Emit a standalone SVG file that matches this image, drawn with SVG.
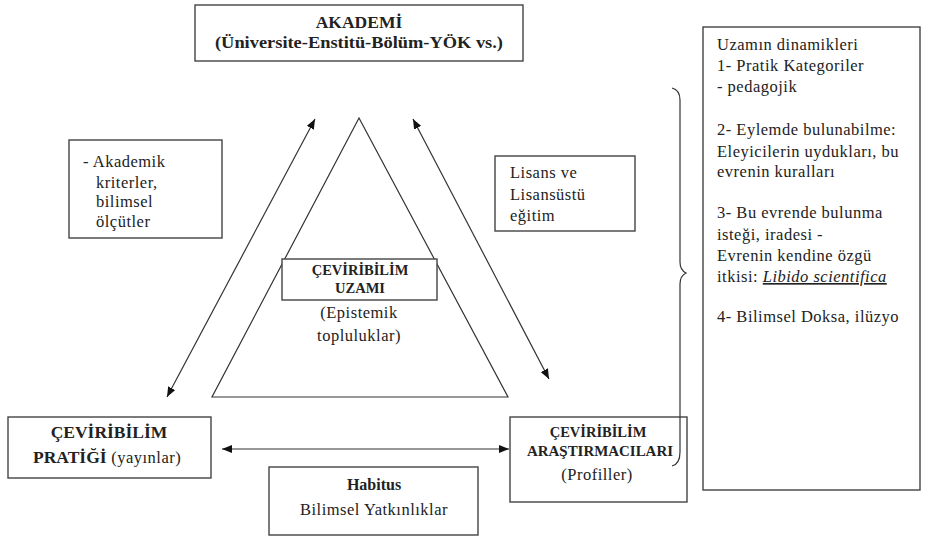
<svg xmlns="http://www.w3.org/2000/svg" width="925" height="539" viewBox="0 0 925 539">
<defs>
<style>
.box{fill:#fff;stroke:#444;stroke-width:1.4}
.ln{fill:none;stroke:#333;stroke-width:1.2}
.b{font-family:"Liberation Serif",serif;font-weight:bold;fill:#222}
.t{font-family:"Liberation Serif",serif;font-size:16.5px;letter-spacing:0.5px;fill:#222}
</style>
<marker id="ah" viewBox="0 0 10 8" refX="10" refY="4" markerWidth="10" markerHeight="8" markerUnits="userSpaceOnUse" orient="auto-start-reverse">
<path d="M0,0 L10,4 L0,8 Z" fill="#111"/>
</marker>
</defs>
<rect width="925" height="539" fill="#fff"/>

<g id="connectors">
<line class="ln" x1="315" y1="119" x2="167" y2="397" marker-start="url(#ah)" marker-end="url(#ah)"/>
<line class="ln" x1="413" y1="119" x2="549" y2="379" marker-start="url(#ah)" marker-end="url(#ah)"/>
<line class="ln" x1="222" y1="449" x2="509" y2="449" marker-start="url(#ah)" marker-end="url(#ah)"/>
</g>

<g id="triangle">
<polygon points="359,118 212,397 508,397" fill="none" stroke="#333" stroke-width="1.2"/>
</g>

<g id="akademi">
<rect class="box" x="195" y="5" width="328" height="56"/>
<text class="b" x="359" y="28" font-size="17.5" text-anchor="middle">AKADEMİ</text>
<text class="b" x="359" y="48" font-size="17" text-anchor="middle" textLength="288" lengthAdjust="spacingAndGlyphs">(Üniversite-Enstitü-Bölüm-YÖK vs.)</text>
</g>

<g id="akademik-kriterler">
<rect class="box" x="69" y="140" width="153" height="98"/>
<text class="t"><tspan x="83" y="167">- Akademik</tspan><tspan x="96" y="188">kriterler,</tspan><tspan x="96" y="207">bilimsel</tspan><tspan x="96" y="227">ölçütler</tspan></text>
</g>

<g id="lisans">
<rect class="box" x="495" y="156" width="140" height="75"/>
<text class="t"><tspan x="510" y="178">Lisans ve</tspan><tspan x="510" y="200">Lisansüstü</tspan><tspan x="510" y="221">eğitim</tspan></text>
</g>

<g id="uzam">
<rect class="box" x="282" y="259" width="155" height="41"/>
<text class="b" x="360" y="275" font-size="14.5" text-anchor="middle">ÇEVİRİBİLİM</text>
<text class="b" x="360" y="293" font-size="14.5" text-anchor="middle">UZAMI</text>
<text class="t" x="359" y="318" text-anchor="middle">(Epistemik</text>
<text class="t" x="359" y="341" text-anchor="middle">topluluklar)</text>
</g>

<g id="pratik">
<rect class="box" x="8" y="417" width="203" height="61"/>
<text class="b" x="109" y="438" font-size="17.5" text-anchor="middle">ÇEVİRİBİLİM</text>
<text x="33" y="463"><tspan class="b" font-size="17.5">PRATİĞİ</tspan><tspan class="t" font-size="15.5px"> (yayınlar)</tspan></text>
</g>

<g id="arastirmacilar">
<rect class="box" x="510" y="417" width="177" height="85"/>
<text class="b" x="598" y="437" font-size="14.5" text-anchor="middle">ÇEVİRİBİLİM</text>
<text class="b" x="600" y="456" font-size="14.5" text-anchor="middle" textLength="146" lengthAdjust="spacingAndGlyphs">ARAŞTIRMACILARI</text>
<text class="t" x="597" y="480" text-anchor="middle">(Profiller)</text>
</g>

<g id="habitus">
<rect class="box" x="269" y="467" width="209" height="68"/>
<text class="b" x="374" y="490" font-size="16" text-anchor="middle">Habitus</text>
<text class="t" x="374" y="515" text-anchor="middle">Bilimsel Yatkınlıklar</text>
</g>

<g id="brace">
<path class="ln" d="M672,88 Q680,90 680,100 L680,262 Q680,270 686,273 Q680,276 680,284 L680,452 Q680,464 672,466"/>
</g>

<g id="dinamikler">
<rect class="box" x="703" y="27" width="217" height="463"/>
<text class="t">
<tspan x="717" y="50">Uzamın dinamikleri</tspan>
<tspan x="717" y="71">1- Pratik Kategoriler</tspan>
<tspan x="717" y="92">-  pedagojik</tspan>
<tspan x="717" y="135">2- Eylemde bulunabilme:</tspan>
<tspan x="717" y="157">Eleyicilerin uydukları, bu</tspan>
<tspan x="717" y="177">evrenin kuralları</tspan>
<tspan x="717" y="218">3- Bu evrende bulunma</tspan>
<tspan x="717" y="240">isteği, iradesi -</tspan>
<tspan x="717" y="261">Evrenin kendine özgü</tspan>
<tspan x="717" y="282">itkisi: <tspan font-style="italic" text-decoration="underline">Libido scientifica</tspan></tspan>
<tspan x="717" y="322">4- Bilimsel Doksa, ilüzyo</tspan>
</text>
</g>
</svg>
